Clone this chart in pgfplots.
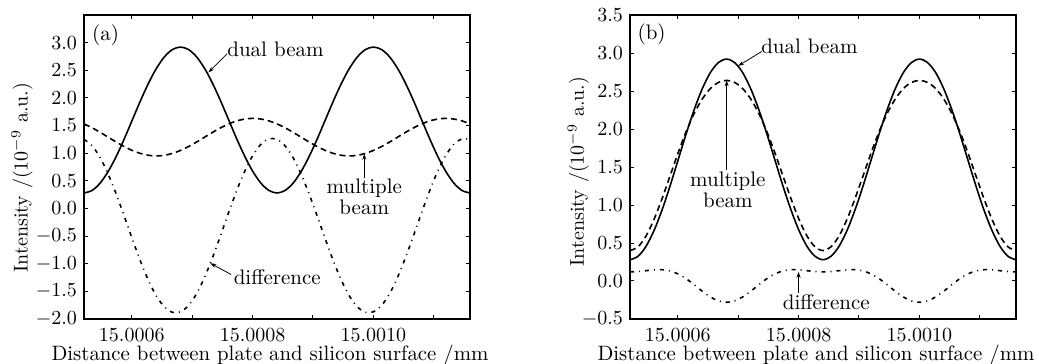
\documentclass[border=0pt]{standalone}
\usepackage{pgfplots}
\pgfplotsset{compat=1.18}
\usepackage{pgfplotstable}
\usetikzlibrary{arrows.meta}

\pgfplotstableread{
x dual mult diff
5.210 0.280 1.530 1.250
5.343 0.325 1.460 1.135
5.476 0.457 1.378 0.921
5.609 0.667 1.290 0.623
5.743 0.940 1.202 0.262
5.876 1.258 1.120 -0.138
6.009 1.600 1.050 -0.550
6.142 1.942 0.996 -0.946
6.275 2.260 0.962 -1.298
6.408 2.533 0.950 -1.583
6.541 2.743 0.962 -1.781
6.674 2.875 0.996 -1.879
6.808 2.920 1.050 -1.870
6.941 2.875 1.120 -1.755
7.074 2.743 1.202 -1.541
7.207 2.533 1.290 -1.243
7.340 2.260 1.378 -0.882
7.473 1.942 1.460 -0.482
7.606 1.600 1.530 -0.070
7.739 1.258 1.584 0.326
7.873 0.940 1.618 0.678
8.006 0.667 1.630 0.963
8.139 0.457 1.618 1.161
8.272 0.325 1.584 1.259
8.405 0.280 1.530 1.250
8.538 0.325 1.460 1.135
8.671 0.457 1.378 0.921
8.804 0.667 1.290 0.623
8.937 0.940 1.202 0.262
9.071 1.258 1.120 -0.138
9.204 1.600 1.050 -0.550
9.337 1.942 0.996 -0.946
9.470 2.260 0.962 -1.298
9.603 2.533 0.950 -1.583
9.736 2.743 0.962 -1.781
9.869 2.875 0.996 -1.879
10.002 2.920 1.050 -1.870
10.136 2.875 1.120 -1.755
10.269 2.743 1.202 -1.541
10.402 2.533 1.290 -1.243
10.535 2.260 1.378 -0.882
10.668 1.942 1.460 -0.482
10.801 1.600 1.530 -0.070
10.934 1.258 1.584 0.326
11.067 0.940 1.618 0.678
11.201 0.667 1.630 0.963
11.334 0.457 1.618 1.161
11.467 0.325 1.584 1.259
11.600 0.280 1.530 1.250
}\dataA

\pgfplotstableread{
x dual mult diff
5.210 0.280 0.400 0.120
5.343 0.325 0.450 0.125
5.476 0.457 0.593 0.136
5.609 0.667 0.814 0.147
5.743 0.940 1.089 0.149
5.876 1.258 1.390 0.132
6.009 1.600 1.692 0.092
6.142 1.942 1.971 0.029
6.275 2.260 2.209 -0.051
6.408 2.533 2.397 -0.136
6.541 2.743 2.533 -0.210
6.674 2.875 2.613 -0.262
6.808 2.920 2.640 -0.280
6.941 2.875 2.613 -0.262
7.074 2.743 2.533 -0.210
7.207 2.533 2.397 -0.136
7.340 2.260 2.209 -0.051
7.473 1.942 1.971 0.029
7.606 1.600 1.692 0.092
7.739 1.258 1.390 0.132
7.873 0.940 1.089 0.149
8.006 0.667 0.814 0.147
8.139 0.457 0.593 0.136
8.272 0.325 0.450 0.125
8.405 0.280 0.400 0.120
8.538 0.325 0.450 0.125
8.671 0.457 0.593 0.136
8.804 0.667 0.814 0.147
8.937 0.940 1.089 0.149
9.071 1.258 1.390 0.132
9.204 1.600 1.692 0.092
9.337 1.942 1.971 0.029
9.470 2.260 2.209 -0.051
9.603 2.533 2.397 -0.136
9.736 2.743 2.533 -0.210
9.869 2.875 2.613 -0.262
10.002 2.920 2.640 -0.280
10.136 2.875 2.613 -0.262
10.269 2.743 2.533 -0.210
10.402 2.533 2.397 -0.136
10.535 2.260 2.209 -0.051
10.668 1.942 1.971 0.029
10.801 1.600 1.692 0.092
10.934 1.258 1.390 0.132
11.067 0.940 1.089 0.149
11.201 0.667 0.814 0.147
11.334 0.457 0.593 0.136
11.467 0.325 0.450 0.125
11.600 0.280 0.400 0.120
}\dataB

\tikzset{
  arr/.style={-{Stealth[length=3pt,width=2pt]}, line width=0.4pt},
  dualst/.style={black, line width=0.8pt, smooth},
  multst/.style={black, line width=0.8pt, smooth, dash pattern=on 3pt off 2pt},
  diffst/.style={black, line width=0.8pt, smooth, dash pattern=on 2pt off 2.5pt on 0.5pt off 2.5pt},
  ann/.style={font=\fontsize{10.5}{10.3}\selectfont, inner sep=1pt},
}
\pgfplotsset{
  myax/.style={
    scale only axis, width=193pt, height=152pt,
    xmin=5.21, xmax=11.6,
    xtick={6,7,8,9,10,11},
    xticklabels={15.0006,,15.0008,,15.0010,},
    tick align=inside, major tick length=2.2pt,
    tick style={line width=0.5pt, black},
    axis line style={line width=0.6pt},
    tick label style={font=\fontsize{10}{12}\selectfont},
    y tick label style={/pgf/number format/.cd, fixed, fixed zerofill, precision=1, /tikz/.cd},
    x tick label style={yshift=-1pt},
    xlabel style={font=\fontsize{10.4}{12.5}\selectfont, at={(axis description cs:0.5,0)}, anchor=base, yshift=-20.5pt, xshift=-3.5pt},
    ylabel style={font=\fontsize{10}{12}\selectfont},
    xlabel={Distance between plate and silicon surface /mm},
    ylabel={Intensity /(10$^{-9}$ a.u.)},
  },
}

\begin{document}
\begin{tikzpicture}
\useasboundingbox (0,0) rectangle (519.5pt,182pt);
% panel (a)
\begin{axis}[myax, at={(42pt,22.5pt)}, anchor=south west,
  ymin=-2, ymax=3.5, ytick={-2,-1.5,...,3.01},
  ylabel style={at={(axis description cs:-0.1606,0.465)}, anchor=center}]
\addplot[dualst] table[x=x, y=dual] {\dataA};
\addplot[multst] table[x=x, y=mult] {\dataA};
\addplot[diffst] table[x=x, y=diff] {\dataA};
\node[ann] at (axis description cs:0.056,0.934) {(a)};
\node[ann] at (axis cs:8.38,2.88) {dual beam};
\draw[arr] (axis cs:7.58,2.80) -- (axis cs:7.27,2.46);
\node[ann, align=center] at (axis cs:9.85,0.205) {multiple\\beam};
\draw[arr] (axis cs:9.85,0.55) -- (axis cs:9.85,0.99);
\node[ann] at (axis cs:8.41,-1.25) {difference};
\draw[arr] (axis cs:7.645,-1.195) -- (axis cs:7.30,-0.99);
\end{axis}
% panel (b)
\begin{axis}[myax, at={(315pt,22.5pt)}, anchor=south west,
  ymin=-0.5, ymax=3.5, ytick={-0.5,0,...,3.51},
  ylabel style={at={(axis description cs:-0.134,0.485)}, anchor=center}]
\addplot[dualst] table[x=x, y=dual] {\dataB};
\addplot[multst] table[x=x, y=mult] {\dataB};
\addplot[diffst] table[x=x, y=diff] {\dataB};
\node[ann] at (axis description cs:0.056,0.937) {(b)};
\node[ann] at (axis cs:8.18,3.087) {dual beam};
\draw[arr] (axis cs:7.39,3.02) -- (axis cs:7.0,2.83);
\node[ann, align=center] at (axis cs:6.83,1.20) {multiple\\beam};
\draw[arr] (axis cs:6.81,1.46) -- (axis cs:6.81,2.64);
\node[ann] at (axis cs:8.46,-0.273) {difference};
\draw[arr] (axis cs:8.0,-0.158) -- (axis cs:8.0,0.12);
\end{axis}
\end{tikzpicture}
\end{document}
